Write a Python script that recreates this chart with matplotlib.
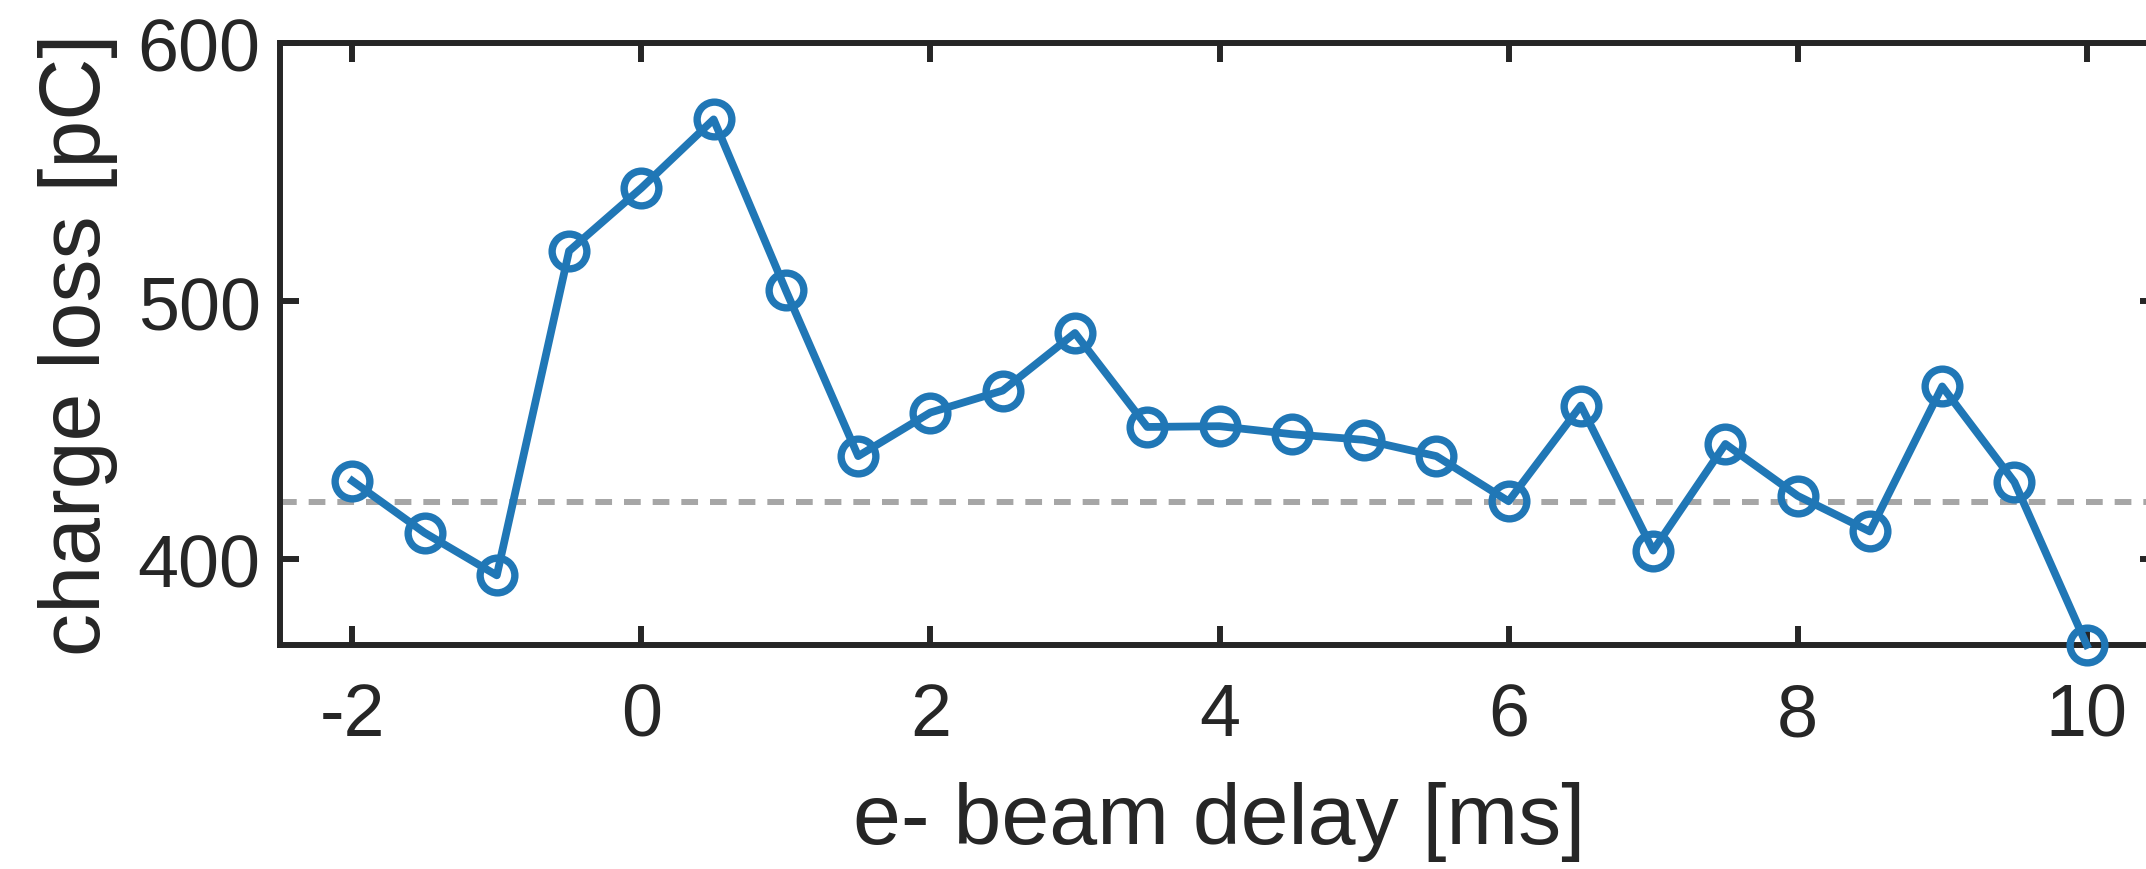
import matplotlib
matplotlib.use("Agg")
import matplotlib.pyplot as plt

plt.rcParams['font.family'] = ['Liberation Sans', 'DejaVu Sans']
plt.rcParams['axes.unicode_minus'] = False

# beam delay [ms] and measured charge loss [pC]
delay = [-2, -1.5, -1, -0.5, 0, 0.5, 1, 1.5, 2, 2.5, 3, 3.5, 4, 4.5,
         5, 5.5, 6, 6.5, 7, 7.5, 8, 8.5, 9, 9.5, 10]
charge_loss = [430.3, 410.2, 393.7, 519.4, 543.8, 570.4, 504.1, 439.9, 456.8,
               465.3, 487.6, 451.2, 451.5, 448.4, 446.2, 439.9, 422.4, 459.5,
               403.3, 444.6, 424.5, 410.7, 466.9, 429.8, 366.7]
baseline = 422.0

xticks = [-2, 0, 2, 4, 6, 8, 10]
yticks = [400, 500, 600]

dark = '#262626'
blue = '#2077b6'

W, H = 2146, 870
fig = plt.figure(figsize=(W / 100, H / 100), dpi=100)
# axes box runs slightly past the right edge of the figure, like the reference
ax = fig.add_axes([280 / W, (H - 646) / H, (2159 - 280) / W, (646 - 44) / H])

ax.axhline(baseline, color='#a6a6a6', linewidth=4.3, linestyle=(0, (2.8, 2.0)),
           zorder=1)
ax.plot(delay, charge_loss, color=blue, linewidth=5.6, marker='o',
        markersize=25, markerfacecolor='none', markeredgewidth=5.3,
        markeredgecolor=blue, zorder=3, clip_on=False)

ax.set_xlim(-2.5, 10.5)
ax.set_ylim(366.7, 600)
ax.set_xticks(xticks)
ax.set_yticks(yticks)

for sp in ax.spines.values():
    sp.set_linewidth(4.3)
    sp.set_color(dark)

ax.tick_params(direction='in', length=14, width=4.3, colors=dark,
               labelsize=53, top=True, right=True)
ax.tick_params(axis='x', pad=26)
ax.tick_params(axis='y', pad=14)

ax.set_xlabel('e- beam delay [ms]', fontsize=62, color=dark, labelpad=22)
ax.set_ylabel('charge loss [pC]', fontsize=62, color=dark, labelpad=14)

fig.savefig('out.png', dpi=100)
